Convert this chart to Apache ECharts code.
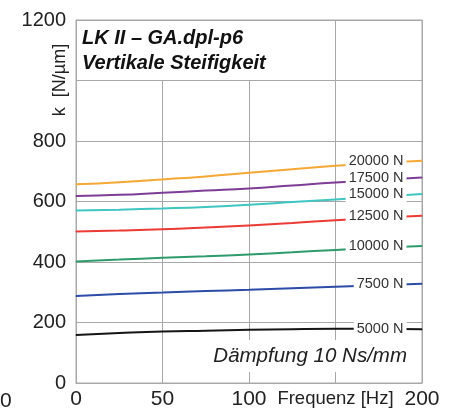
<!DOCTYPE html>
<html>
<head>
    <meta charset="utf-8">
    <title>Vertikale Steifigkeit</title>
    <script type="text/javascript" src="https://cdn.jsdelivr.net/npm/echarts@6/dist/echarts.min.js"></script>
    <style>
        html, body { margin: 0; padding: 0; background: #fff; }
    </style>
</head>
<body>
<div id="main" style="width:452px;height:410px;"></div>

<script type="text/javascript">
    // Frequenz [Hz]
    var freq = [0, 25, 50, 75, 100, 125, 150, 175, 200];
    // Steifigkeit k [N/µm] je Last
    var k20000 = [657, 664, 673, 683, 695, 707, 718, 727, 735];
    var k17500 = [618, 622, 629, 636, 643, 653, 663, 671, 679];
    var k15000 = [570, 573, 577, 582, 589, 598, 607, 616, 625];
    var k12500 = [501, 504, 508, 514, 521, 529, 538, 546, 553];
    var k10000 = [402, 408, 414, 419, 425, 432, 440, 447, 453];
    var k7500 = [288, 294, 299, 304, 308, 313, 318, 323, 328];
    var k5000 = [159, 165, 170, 173, 176, 178, 179, 179, 178];

    var loadNames = ['20000 N', '17500 N', '15000 N', '12500 N', '10000 N', '7500 N', '5000 N'];
    var loadValues = [k20000, k17500, k15000, k12500, k10000, k7500, k5000];
    var loadColors = ['#f5a835', '#7e3d96', '#3fc6c2', '#ec3a35', '#2f9b6c', '#2c4ca8', '#151515'];

    var FONT = 'Liberation Sans, Arial, sans-serif';

    var series = loadNames.map(function (name, i) {
        var vals = loadValues[i];
        var data = freq.map(function (f, j) {
            var item = { value: [f, vals[j]] };
            // Beschriftung am rechten Ende, weiss hinterlegt
            if (j === freq.length - 1) {
                item.label = {
                    show: true,
                    position: 'left',
                    distance: 15,
                    formatter: name,
                    color: '#333',
                    fontFamily: FONT,
                    fontSize: 14.5,
                    backgroundColor: '#fff',
                    padding: [1, 3, 1, 3]
                };
            }
            return item;
        });
        return {
            name: name,
            type: 'line',
            smooth: true,
            symbol: 'circle',
            symbolSize: 1,
            showSymbol: true,
            lineStyle: { color: loadColors[i], width: 2 },
            itemStyle: { color: loadColors[i] },
            emphasis: { disabled: true },
            data: data
        };
    });

    var myChart = echarts.init(document.getElementById('main'));

    var option = {
        animation: false,
        grid: {
            left: 76, right: 30, top: 20, bottom: 26,
            show: true, borderColor: '#a8a8a8', borderWidth: 1
        },
        xAxis: {
            type: 'value',
            min: 0, max: 200, interval: 50,
            axisLine: { lineStyle: { color: '#a8a8a8' } },
            axisTick: { show: false },
            splitLine: { lineStyle: { color: '#a8a8a8' } },
            axisLabel: {
                margin: 6,
                color: '#222',
                fontFamily: FONT,
                fontSize: 21,
                formatter: function (v) {
                    return v === 150 ? '{u|Frequenz [Hz]}' : String(v);
                },
                rich: { u: { fontFamily: FONT, fontSize: 18.5, color: '#222' } }
            }
        },
        yAxis: {
            type: 'value',
            min: 0, max: 1200, interval: 200,
            axisLine: { show: true, lineStyle: { color: '#a8a8a8' } },
            axisTick: { show: false },
            splitLine: { lineStyle: { color: '#a8a8a8' } },
            axisLabel: {
                margin: 10,
                color: '#222',
                fontFamily: FONT,
                fontSize: 20,
                formatter: function (v) { return v === 1000 ? '' : String(v); }
            }
        },
        graphic: [
            { type: 'rect', z: 1, shape: { x: 77, y: 21, width: 257, height: 59 }, style: { fill: '#fff' } },
            {
                type: 'text', z: 2, x: 82, y: 26,
                style: {
                    text: 'LK II – GA.dpl-p6\nVertikale Steifigkeit',
                    font: 'italic bold 20px ' + FONT,
                    lineHeight: 25,
                    fill: '#111'
                }
            },
            {
                type: 'text', z: 2, x: 414, y: 356,
                style: {
                    text: 'Dämpfung 10 Ns/mm',
                    font: 'italic 20.5px ' + FONT,
                    fill: '#222',
                    align: 'right',
                    verticalAlign: 'middle',
                    backgroundColor: '#fff',
                    padding: [6, 7, 6, 3]
                }
            },
            {
                type: 'text', z: 2, x: 60, y: 80, rotation: Math.PI / 2,
                style: {
                    text: 'k  [N/µm]',
                    font: '18px ' + FONT,
                    fill: '#222',
                    align: 'center',
                    verticalAlign: 'middle'
                }
            },
            {
                type: 'text', z: 2, x: 0, y: 391,
                style: { text: '0', font: '21px ' + FONT, fill: '#222' }
            }
        ],
        series: series
    };

    myChart.setOption(option);
</script>
</body>
</html>
